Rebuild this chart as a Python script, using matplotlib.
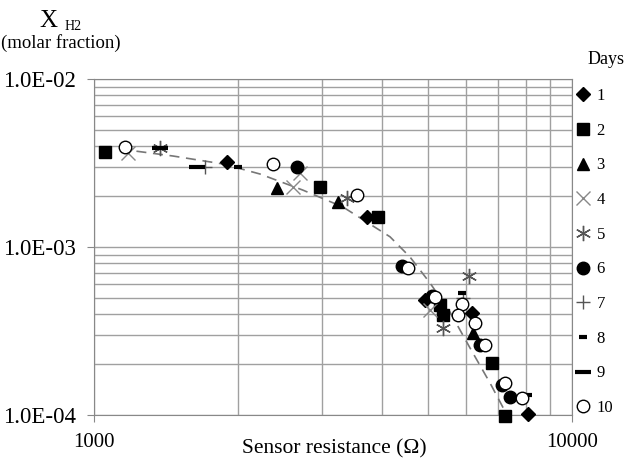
import matplotlib.pyplot as plt
from matplotlib.ticker import LogLocator, NullFormatter

plt.rcParams['font.family'] = ['Liberation Serif', 'DejaVu Serif']

# data, one list pair per day
day_1_x = [1898, 3725, 4926, 6178, 8088]
day_1_y = [3.21e-3, 1.51e-3, 4.84e-4, 4.05e-4, 1.01e-4]
day_2_x = [1054, 2971, 3929, 5296, 5373, 6803, 7243]
day_2_y = [3.68e-3, 2.28e-3, 1.51e-3, 4.52e-4, 3.94e-4, 2.04e-4, 9.9e-5]
day_3_x = [2415, 3240, 6208]
day_3_y = [2.24e-3, 1.85e-3, 3.08e-4]
day_4_x = [1178, 2698, 2609, 5047]
day_4_y = [3.63e-3, 2.76e-3, 2.28e-3, 4.22e-4]
day_5_x = [1374, 3382, 6089, 5373]
day_5_y = [3.88e-3, 1.96e-3, 6.72e-4, 3.30e-4]
day_6_x = [2659, 4410, 5096, 6421, 7139, 7418]
day_6_y = [2.99e-3, 7.71e-4, 5.11e-4, 2.61e-4, 1.51e-4, 1.28e-4]
day_7_x = [1707, 5916]
day_7_y = [2.99e-3, 4.97e-4]
day_8_x = [2001, 5887, 8088]
day_8_y = [2.99e-3, 5.32e-4, 1.32e-4]
day_9_x = [1643, 1374]
day_9_y = [2.99e-3, 3.88e-3]
day_10_x = [1161, 2369, 3549, 4538, 5170, 5887, 5774, 6268, 6577, 7243, 7862]
day_10_y = [3.94e-3, 3.12e-3, 2.04e-3, 7.50e-4, 5.04e-4, 4.58e-4, 3.94e-4,
            3.53e-4, 2.61e-4, 1.55e-4, 1.26e-4]

# dashed trend line
fit_x = [1133, 1463, 1862, 2224, 2736, 3318, 4162, 4582, 5047, 5556, 6117, 6738, 7311]
fit_y = [3.83e-3, 3.48e-3, 3.12e-3, 2.72e-3, 2.18e-3, 1.73e-3, 1.15e-3, 8.72e-4,
         6.10e-4, 4.10e-4, 2.51e-4, 1.55e-4, 1.0e-4]

fig = plt.figure(figsize=(6.29, 4.58), dpi=100)
ax = fig.add_axes([94/629, 1 - 415/458, (572 - 94)/629, (415 - 79)/458])

ax.plot(fit_x, fit_y, color='#777777', linestyle=(0, (6, 4)), linewidth=1.2, zorder=2)

styles = [
    (day_1_x, day_1_y, dict(marker='D', ms=7, color='black')),
    (day_2_x, day_2_y, dict(marker='s', ms=8, color='black')),
    (day_3_x, day_3_y, dict(marker='^', ms=8, color='black')),
    (day_4_x, day_4_y, dict(marker='x', ms=10, color='#888888', mew=1)),
    (day_5_x, day_5_y, dict(marker=(6, 2, 0), ms=11, color='#555555', mew=1)),
    (day_6_x, day_6_y, dict(marker='o', ms=9, color='black')),
    (day_7_x, day_7_y, dict(marker='+', ms=10, color='#555555', mew=1)),
    (day_8_x, day_8_y, dict(marker='_', ms=6, color='black', mew=3)),
    (day_9_x, day_9_y, dict(marker='_', ms=11, color='black', mew=3)),
    (day_10_x, day_10_y, dict(marker='o', ms=9, mfc='white', mec='black', mew=1)),
]
for i, (xs, ys, st) in enumerate(styles):
    ax.plot(xs, ys, linestyle='none', label=str(i + 1), clip_on=False, zorder=3, **st)

ax.set_xscale('log')
ax.set_yscale('log')
ax.set_xlim(1000, 10000)
ax.set_ylim(1e-4, 1e-2)
ax.set_xticks([1000, 10000])
ax.set_xticklabels(['1000', '10000'])
ax.set_yticks([1e-4, 1e-3, 1e-2])
ax.set_yticklabels(['1.0E-04', '1.0E-03', '1.0E-02'])
ax.xaxis.set_minor_locator(LogLocator(base=10, subs=range(2, 10)))
ax.yaxis.set_minor_locator(LogLocator(base=10, subs=range(2, 10)))
ax.xaxis.set_minor_formatter(NullFormatter())
ax.yaxis.set_minor_formatter(NullFormatter())
ax.tick_params(which='major', length=5, color='#888888')
ax.tick_params(axis='x', which='major', labelsize=15, pad=8)
ax.tick_params(axis='y', which='major', labelsize=16.5, pad=8)
ax.tick_params(which='minor', length=0)
ax.grid(which='both', color='#a0a0a0', linewidth=1)
ax.set_axisbelow(True)
for s in ax.spines.values():
    s.set_color('#888888')

ax.set_xlabel('Sensor resistance (Ω)', fontsize=15.5, va='center')
ax.xaxis.set_label_coords((334 - 94)/478, (415 - 449)/336)
fig.text(48/629, 1 - 21/458, 'X', fontsize=18, ha='center', va='center')
fig.text(65/629, 1 - 27/458, 'H2', fontsize=10, ha='left', va='center')
fig.text(61/629, 1 - 43/458, '(molar fraction)', fontsize=13.5, ha='center', va='center')
fig.text(606/629, 1 - 60/458, 'Days', fontsize=13, ha='center', va='center')

leg = ax.legend(loc='upper left', bbox_to_anchor=(575/629, 1 - 88/458),
                bbox_transform=fig.transFigure, frameon=False, fontsize=12,
                handlelength=1.0, handletextpad=0.3,
                labelspacing=1.12, borderpad=0, borderaxespad=0)

fig.savefig('out.png', dpi=100)
